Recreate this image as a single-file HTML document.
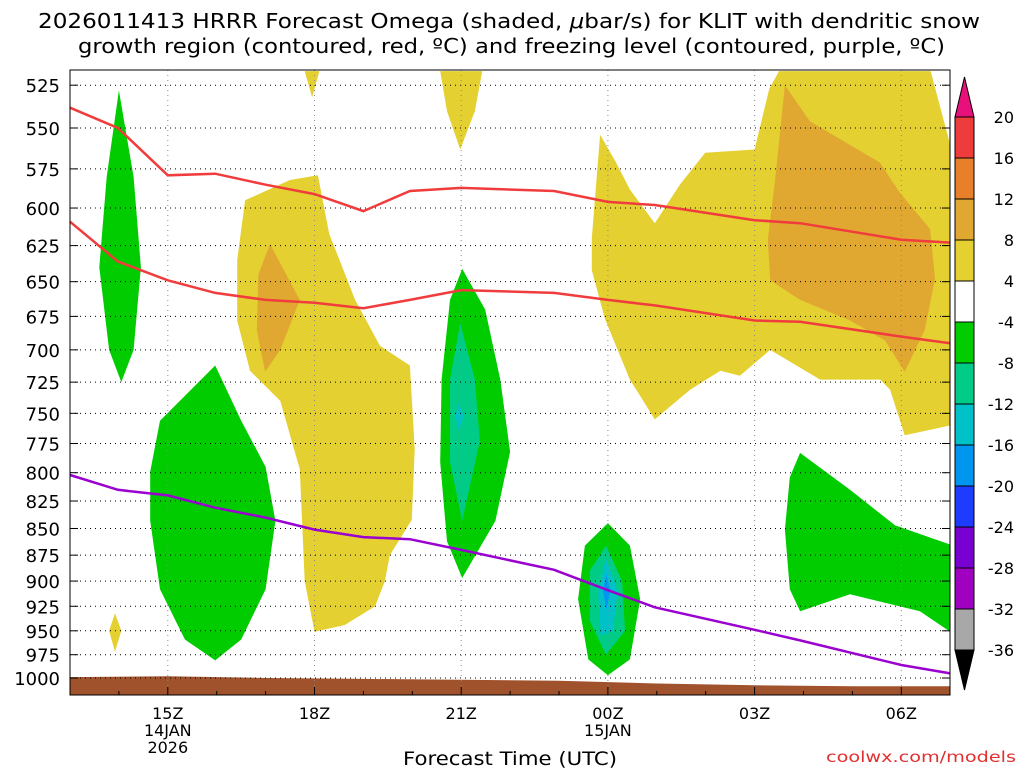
<!DOCTYPE html>
<html><head><meta charset="utf-8"><style>
body{margin:0;background:#fff;}
svg{display:block;font-family:"DejaVu Sans","Liberation Sans",sans-serif;}
</style></head><body>
<svg id="chart" width="1024" height="768" viewBox="0 0 1024 768">
<text x="38" y="28" font-size="20" textLength="942" lengthAdjust="spacingAndGlyphs">2026011413 HRRR Forecast Omega (shaded, <tspan font-style="italic">μ</tspan>bar/s) for KLIT with dendritic snow</text>
<text x="78" y="53" font-size="20" textLength="867" lengthAdjust="spacingAndGlyphs">growth region (contoured, red, ºC) and freezing level (contoured, purple, ºC)</text>
<g id="fills"></g>
<g id="grid"></g>
<g id="lines"></g>
<g id="axes"></g>
<g id="cbar"></g>
<text x="403" y="765" font-size="19" textLength="214" lengthAdjust="spacingAndGlyphs">Forecast Time (UTC)</text>
<text x="826" y="762" font-size="15" textLength="190" lengthAdjust="spacingAndGlyphs" fill="#e03030">coolwx.com/models</text>
</svg>
<script>
const pTicks=[525,550,575,600,625,650,675,700,725,750,775,800,825,850,875,900,925,950,975,1000];
const timeTicks=[2,5,8,11,14,17];
const timeLabels=["15Z","18Z","21Z","00Z","03Z","06Z"];
const cbLevels=[20,16,12,8,4,-4,-8,-12,-16,-20,-24,-28,-32,-36];
const cbColors=["#ee3c3c","#e8802a","#e0a830","#e4d030","#ffffff","#00cc00","#00cc88","#00c0c8","#0096f0","#1e3cff","#7800d0","#a000c0","#a8a8a8"];
const shapes=[
 {c:"#e4d030",pts:[[3.42,635],[3.58,595],[4.5,582],[5.07,579],[5.3,617],[5.83,663],[6.34,697],[6.95,712],[7.05,780],[6.99,842],[6.54,875],[6.44,900],[6.24,925],[5.62,944],[5.0,951],[4.8,900],[4.7,797],[4.3,740],[3.68,716],[3.42,678]]},
 {c:"#e4d030",pts:[[4.8,517],[5.1,517],[4.95,532]]},
 {c:"#e0a830",pts:[[4.09,624],[4.7,663],[4.3,700],[3.99,717],[3.82,685],[3.85,645]]},
 {c:"#e4d030",pts:[[7.57,517],[8.43,517],[8.28,540],[7.98,563],[7.71,540]]},
 {c:"#e4d030",pts:[[10.67,620],[10.84,554],[11.15,570],[11.45,588],[11.96,610],[12.47,585],[12.99,565],[14.0,563],[14.3,527],[14.5,517],[17.6,517],[18,560],[18,760],[17.07,768],[16.77,731],[16.57,723],[15.34,723],[14.32,700],[13.7,720],[13.3,716],[12.68,731],[11.96,755],[11.45,723],[10.94,677],[10.67,642]]},
 {c:"#e0a830",pts:[[14.62,525],[15.13,546],[16.56,571],[16.97,590],[17.59,614],[17.69,648],[17.48,685],[17.07,717],[16.67,693],[15.95,678],[14.93,663],[14.32,649],[14.27,621],[14.42,582]]},
 {c:"#00cc00",pts:[[1.0,528],[1.3,580],[1.45,640],[1.3,700],[1.05,725],[0.8,700],[0.6,640],[0.75,580]]},
 {c:"#00cc00",pts:[[1.64,799],[1.84,756],[2.97,712],[3.5,756],[4,795],[4.2,843],[4,908],[3.5,959],[2.97,981],[2.35,959],[1.84,908],[1.64,843]]},
 {c:"#e4d030",pts:[[0.92,932],[1.05,950],[0.92,972],[0.8,950]]},
 {c:"#00cc00",pts:[[8.02,641],[8.49,670],[8.8,723],[9.0,782],[8.7,843],[8.02,897],[7.71,862],[7.57,791],[7.6,723],[7.77,663]]},
 {c:"#00cc88",pts:[[7.98,680],[8.28,723],[8.38,773],[8.02,843],[7.77,791],[7.77,723]]},
 {c:"#00c0c8",pts:[[7.95,742],[8.05,752],[7.95,765],[7.88,752]]},
 {c:"#00cc00",pts:[[14.93,783],[15.95,815],[16.87,847],[18,865],[18,951],[17.38,930],[15.95,913],[14.93,930],[14.72,908],[14.62,851],[14.72,804]]},
 {c:"#00cc00",pts:[[11,845],[11.45,866],[11.66,918],[11.45,980],[11,997],[10.6,980],[10.39,918],[10.53,866]]},
 {c:"#00cc88",pts:[[10.96,866],[11.29,900],[11.35,950],[10.96,975],[10.63,940],[10.63,890]]},
 {c:"#00c0c8",pts:[[10.96,878],[11.2,910],[11.1,950],[10.85,955],[10.8,910]]},
 {c:"#0096f0",pts:[[10.97,893],[11.05,910],[10.97,928],[10.9,910]]}
];
const groundHours=[0,2,4,6,8,10,12,14,16,18];
const groundP=[999,998,1000,1001,1002,1003,1006,1008,1009,1009];
const redUpperH=[0,0.98,2,2.97,4,5,6,6.95,8,9.9,11,11.96,14,14.93,17,18];
const redUpperP=[538,550,579,578,585,591,602,589,587,589,596,598,608,610,621,623];
const redLowerH=[0,0.98,2,2.97,4,5,6,6.95,8,9.9,11,11.96,14,14.93,17,18];
const redLowerP=[609,636,649,658,663,665,669,663,656,658,663,667,678,679,690,695];
const purpleH=[0,0.98,2,2.97,4,5,6,6.95,8,9.9,11,11.96,14,14.93,17,18];
const purpleP=[802,815,820,831,840,851,858,860,870,889,909,926,949,960,986,995];

const NS="http://www.w3.org/2000/svg";
const X0=70,X1=950,Y0=70,Y1=695;
const xs=h=>X0+h*48.9;
const ys=p=>678-920*Math.log(1000/p);
function el(t,a,parent){const e=document.createElementNS(NS,t);for(const k in a)e.setAttribute(k,a[k]);parent.appendChild(e);return e;}
const fills=document.getElementById('fills'),grid=document.getElementById('grid'),lines=document.getElementById('lines'),axes=document.getElementById('axes'),cbar=document.getElementById('cbar');
const defs=el('defs',{},fills);const cp=el('clipPath',{id:'clip'},defs);el('rect',{x:X0,y:Y0,width:X1-X0,height:Y1-Y0},cp);
const fg=el('g',{'clip-path':'url(#clip)'},fills);
shapes.forEach((s,i)=>{
 const e=el('polygon',{points:s.pts.map(q=>xs(q[0]).toFixed(1)+','+ys(q[1]).toFixed(1)).join(' '),fill:s.c},fg);
 
 
});
let gp=groundHours.map((h,i)=>xs(h).toFixed(1)+','+ys(groundP[i]).toFixed(1));
gp.push(X1+','+Y1,X0+','+Y1);
const g=el('polygon',{points:gp.join(' '),fill:'#a0522d'},fg);


pTicks.forEach(p=>{
 const y=ys(p);
 const l=el('line',{x1:X0,x2:X1,y1:y,y2:y,stroke:'#000','stroke-width':1,'stroke-dasharray':'1,4'},grid);
 
 
 el('line',{x1:X0,x2:X0+8,y1:y,y2:y,stroke:'#000'},axes);
 el('line',{x1:X1,x2:X1-8,y1:y,y2:y,stroke:'#000'},axes);
 const t=el('text',{x:60,y:y+7,'font-size':18,'text-anchor':'end'},axes);t.textContent=p;
 
 
});
timeTicks.forEach((h,i)=>{
 const x=xs(h);
 const l=el('line',{x1:x,x2:x,y1:Y0,y2:Y1,stroke:'#888','stroke-width':1,'stroke-dasharray':'1,4'},grid);
 
 
 const t=el('text',{x:x,y:719,'font-size':16,'text-anchor':'middle'},axes);t.textContent=timeLabels[i];
 
 
});
for(let h=1;h<18;h++){const x=xs(h);el('line',{x1:x,x2:x,y1:Y1,y2:Y1-(h%3==2?8:4),stroke:'#000'},axes);}
[["14JAN",736,xs(2)],["2026",753,xs(2)],["15JAN",736,xs(11)]].forEach(a=>{const t=el('text',{x:a[2],y:a[1],'font-size':16,'text-anchor':'middle'},axes);t.textContent=a[0];
 
 });
el('rect',{x:X0,y:Y0,width:X1-X0,height:Y1-Y0,fill:'none',stroke:'#000'},axes);
function line(H,P,col,name){const e=el('polyline',{points:H.map((h,i)=>xs(h).toFixed(1)+','+ys(P[i]).toFixed(1)).join(' '),fill:'none',stroke:col,'stroke-width':2.5},lines);
 
 }
line(redUpperH,redUpperP,'#f03c3c','dgz-upper-line');
line(redLowerH,redLowerP,'#f03c3c','dgz-lower-line');
line(purpleH,purpleP,'#9a00d0','freezing-level-line');
const cx=955,cw=19,ctop=117,step=(650-117)/13;
el('polygon',{points:`${cx},${ctop} ${cx+cw},${ctop} ${cx+cw/2},${ctop-40}`,fill:'#e8107a',stroke:'#000'},cbar);
cbColors.forEach((c,i)=>{const r=el('rect',{x:cx,y:ctop+i*step,width:cw,height:step,fill:c,stroke:'#000'},cbar);
 
 });
el('polygon',{points:`${cx},650 ${cx+cw},650 ${cx+cw/2},690`,fill:'#000',stroke:'#000'},cbar);
cbLevels.forEach((v,i)=>{const t=el('text',{x:1014,y:ctop+i*step+6,'font-size':16,'text-anchor':'end'},cbar);t.textContent=v;
 
 });
</script>
</body></html>
